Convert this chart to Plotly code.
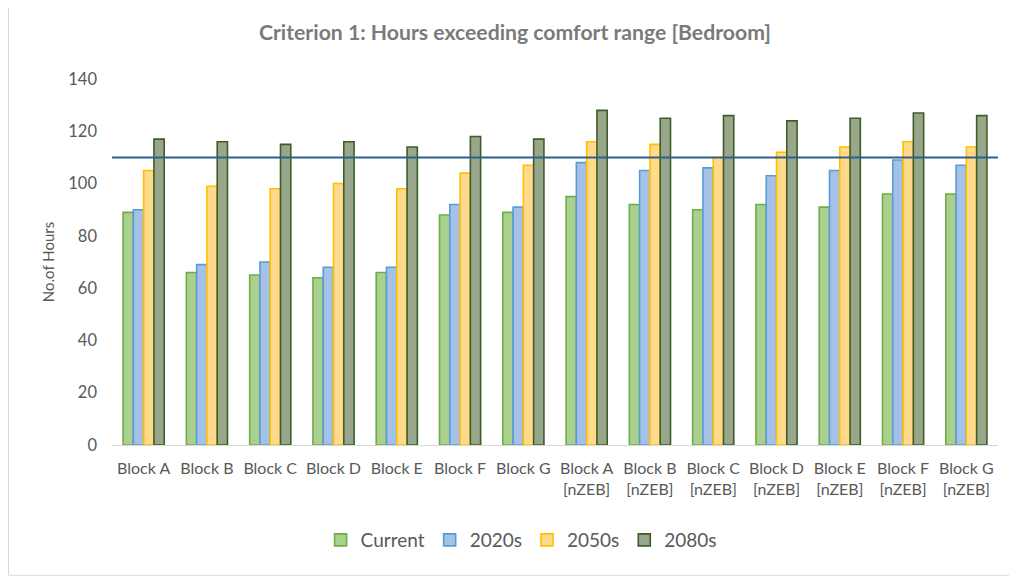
"""
Criterion 1 bar chart: hours exceeding comfort range (bedroom), per block and climate period.
"""

import plotly.graph_objects as go

CATEGORIES = [
    "Block A", "Block B", "Block C", "Block D", "Block E", "Block F", "Block G",
    "Block A<br>[nZEB]", "Block B<br>[nZEB]", "Block C<br>[nZEB]", "Block D<br>[nZEB]",
    "Block E<br>[nZEB]", "Block F<br>[nZEB]", "Block G<br>[nZEB]",
]

CURRENT = [89, 66, 65, 64, 66, 88, 89, 95, 92, 90, 92, 91, 96, 96]
Y2020S = [90, 69, 70, 68, 68, 92, 91, 108, 105, 106, 103, 105, 109, 107]
Y2050S = [105, 99, 98, 100, 98, 104, 107, 116, 115, 110, 112, 114, 116, 114]
Y2080S = [117, 116, 115, 116, 114, 118, 117, 128, 125, 126, 124, 125, 127, 126]

THRESHOLD = 110
Y_TICKS = [0, 20, 40, 60, 80, 100, 120, 140]

# fill / outline per series (Excel-style gradient approximated by a mid tone)
SERIES = [
    ("Current", CURRENT, "#a9d08e", "#70ad47"),
    ("2020s", Y2020S, "#a4c2e8", "#5b9bd5"),
    ("2050s", Y2050S, "#ffd98c", "#ffc000"),
    ("2080s", Y2080S, "#98a68c", "#3e5e27"),
]

FONT = "Lato, Carlito, Calibri, sans-serif"

fig = go.Figure()
for name, vals, fill, edge in SERIES:
    fig.add_trace(
        go.Bar(
            x=CATEGORIES,
            y=vals,
            name=name,
            marker=dict(color=fill, line=dict(color=edge, width=1.6)),
        )
    )

fig.add_hline(y=THRESHOLD, line=dict(color="#2d5f8f", width=2), layer="above")

# chart-area border (top/right fall outside the page, like the original)
fig.add_shape(
    type="rect", xref="paper", yref="paper",
    x0=-0.1168, x1=1.2, y0=-0.356, y1=1.4,
    line=dict(color="#d9d9d9", width=1), layer="below",
)

fig.update_layout(
    width=1017,
    height=577,
    template="none",
    paper_bgcolor="white",
    plot_bgcolor="white",
    font=dict(family=FONT, color="#595959", size=16),
    title=dict(
        text="<b>Criterion 1: Hours exceeding comfort range [Bedroom]</b>",
        x=0.4985,
        xref="container",
        xanchor="center",
        y=0.957,
        yref="container",
        yanchor="middle",
        font=dict(size=21.2, color="#7a7a7a", family=FONT),
    ),
    barmode="group",
    bargap=0.35,
    bargroupgap=0,
    margin=dict(l=104, r=27, t=71, b=140, autoexpand=False),
    xaxis=dict(
        automargin=False,
        showline=True,
        linecolor="#d9d9d9",
        linewidth=1,
        showgrid=False,
        ticks="",
        ticklabelstandoff=9,
        tickfont=dict(size=16, color="#595959"),
    ),
    yaxis=dict(
        automargin=False,
        range=[0, 140],
        tickvals=Y_TICKS,
        showgrid=False,
        zeroline=False,
        showline=False,
        ticks="",
        ticklen=0,
        ticklabelstandoff=14,
        tickfont=dict(size=16.5, color="#595959"),
        title=dict(text="No.of Hours", font=dict(size=15, color="#595959"), standoff=10),
    ),
    legend=dict(
        orientation="h",
        x=0.505,
        xref="container",
        xanchor="center",
        y=0.078,
        yref="container",
        yanchor="middle",
        font=dict(size=19, color="#595959"),
        itemwidth=30,
        traceorder="normal",
    ),
    showlegend=True,
)

fig.write_html("out.html")
